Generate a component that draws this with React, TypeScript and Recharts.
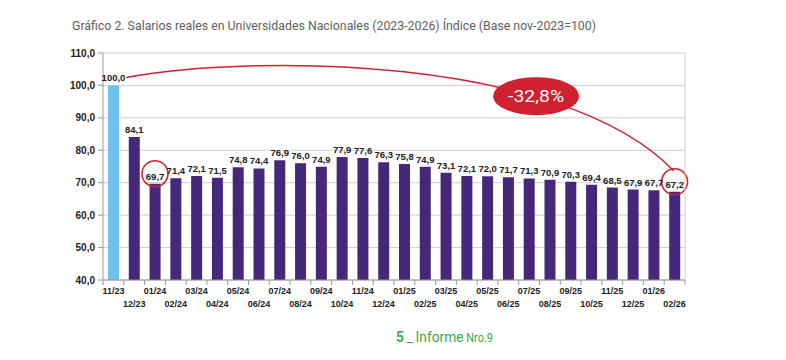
import React from 'react';
import { BarChart, Bar, XAxis, YAxis, CartesianGrid, Cell, LabelList, ReferenceDot, ReferenceLine } from 'recharts';

const months = ['11/23','12/23','01/24','02/24','03/24','04/24','05/24','06/24','07/24','08/24','09/24','10/24','11/24','12/24','01/25','02/25','03/25','04/25','05/25','06/25','07/25','08/25','09/25','10/25','11/25','12/25','01/26','02/26'];
const values = [100.0,84.1,69.7,71.4,72.1,71.5,74.8,74.4,76.9,76.0,74.9,77.9,77.6,76.3,75.8,74.9,73.1,72.1,72.0,71.7,71.3,70.9,70.3,69.4,68.5,67.9,67.7,67.2];
const yTicks = [40,50,60,70,80,90,100,110];
const changeLabel = '-32,8%';

const data = months.map((m, i) => ({ month: m, value: values[i] }));

const RED = '#D1202F';
const PURPLE = '#46287A';
const BLUE = '#6EC1EC';
const GREEN = '#3DAA4A';
const HALF_BAND = 582 / 28 / 2;
const fmt = (v: number) => v.toFixed(1).replace('.', ',');
const NARROW = 'Roboto, sans-serif';
const SANS = 'Liberation Sans, Arial, sans-serif';

const XTick = (props: any) => {
  const { x, y, payload, index } = props;
  const row = index % 2;
  const y0 = y - 8;
  return (
    <g>
      <line x1={x - HALF_BAND} x2={x - HALF_BAND} y1={y0} y2={y0 + 5} stroke="#999" />
      {index === months.length - 1 && (
        <line x1={x + HALF_BAND} x2={x + HALF_BAND} y1={y0} y2={y0 + 5} stroke="#999" />
      )}
      <text x={x} y={y + 6 + row * 13} textAnchor="middle" fontSize={9} fontWeight="bold" fill="#222" fontFamily={SANS}>
        {payload.value}
      </text>
    </g>
  );
};

const ArcShape = (props: any) => {
  const { x1, y1, x2, y2 } = props;
  if (x1 == null) return null;
  const sx = x1 + 13, sy = y1 - 8;
  const ex = x2 - 1, ey = y2 - 21;
  const d = `M${sx},${sy} C${x1 + 136},${y1 - 31} ${x2 - 113},${y1 - 31} ${ex},${ey}`;
  return <path d={d} fill="none" stroke={RED} strokeWidth={1.5} />;
};

const CircleShape = (props: any) => {
  const { cx, cy } = props;
  return <circle cx={cx} cy={cy - 10} r={13} fill="none" stroke={RED} strokeWidth={1.5} />;
};

const BadgeShape = (props: any) => {
  const { cx, cy } = props;
  return (
    <g>
      <ellipse cx={cx + 7} cy={cy} rx={43} ry={19} fill={RED} />
      <text x={cx + 7} y={cy + 6} textAnchor="middle" fontSize={17} fill="#fff" fontFamily={NARROW}
        textLength={56} lengthAdjust="spacingAndGlyphs">
        {changeLabel}
      </text>
    </g>
  );
};

export default function App() {
  return (
    <div style={{ position: 'absolute', left: 0, top: 0, width: 786, height: 360, background: '#fff' }}>
      <BarChart width={786} height={360} data={data} margin={{ top: 53, right: 101, bottom: 50, left: 0 }}>
        <CartesianGrid vertical={false} stroke="#cfcfcf" />
        <XAxis dataKey="month" interval={0} tickLine={false} tick={<XTick />} height={30} stroke="#999" />
        <YAxis domain={[40, 110]} ticks={yTicks} width={103} tickFormatter={fmt} stroke="#999"
          tick={{ fontSize: 10, fontWeight: 'bold', fill: '#222', fontFamily: SANS }} tickSize={5} tickMargin={3} />
        <Bar dataKey="value" barSize={11} isAnimationActive={false}>
          {data.map((d, i) => (
            <Cell key={d.month} fill={i === 0 ? BLUE : PURPLE} />
          ))}
          <LabelList dataKey="value" position="top" offset={4} formatter={(v: any) => fmt(Number(v))}
            style={{ fontSize: 9.5, fontWeight: 'bold', fill: '#222', fontFamily: SANS }} />
        </Bar>
        <ReferenceLine segment={[{ x: months[0], y: values[0] }, { x: months[months.length - 1], y: values[values.length - 1] }]}
          ifOverflow="visible" shape={<ArcShape />} />
        <ReferenceDot x="01/24" y={69.7} r={13} ifOverflow="visible" shape={<CircleShape />} />
        <ReferenceDot x="02/26" y={67.2} r={13} ifOverflow="visible" shape={<CircleShape />} />
        <ReferenceDot x="07/25" y={96.7} r={20} ifOverflow="visible" shape={<BadgeShape />} />
      </BarChart>
      <svg width={786} height={360} style={{ position: 'absolute', left: 0, top: 0, pointerEvents: 'none' }}>
        <line x1={685} x2={685} y1={53} y2={280} stroke="#cfcfcf" />
        <text x={72} y={30} fontSize={13.5} fill="#5f5f5f" textLength={524} lengthAdjust="spacingAndGlyphs" fontFamily={NARROW}>
          Gráfico 2. Salarios reales en Universidades Nacionales (2023-2026) Índice (Base nov-2023=100)
        </text>
        <text x={396} y={342} fill={GREEN} fontFamily={NARROW} fontSize={15} textLength={97} lengthAdjust="spacingAndGlyphs">
          <tspan fontWeight="bold">5</tspan>
          <tspan dx={3}>_</tspan>
          <tspan dx={3}>Informe</tspan>
          <tspan dx={3} fontSize={12}>Nro.9</tspan>
        </text>
      </svg>
    </div>
  );
}
